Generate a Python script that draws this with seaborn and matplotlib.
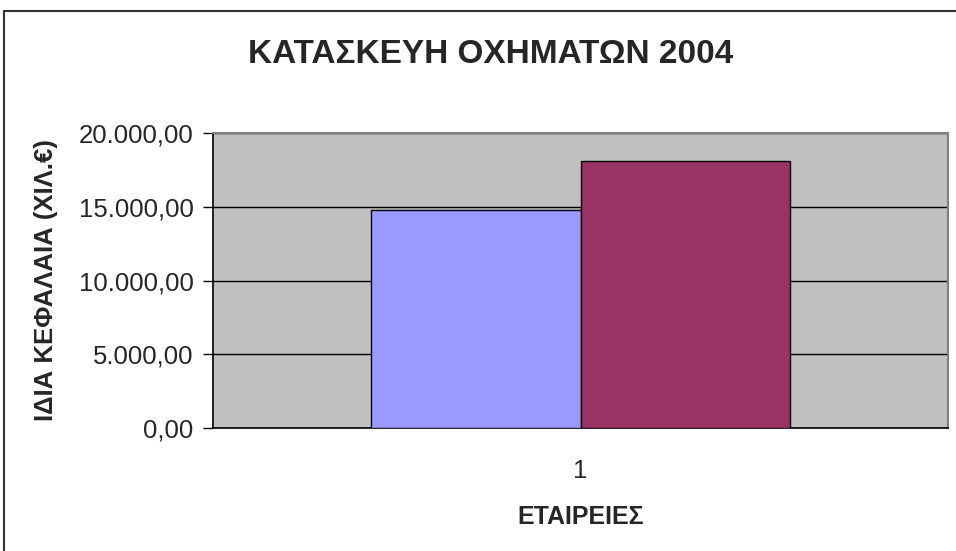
import numpy as np
import pandas as pd
import matplotlib
matplotlib.use("Agg")
import matplotlib.pyplot as plt
from matplotlib.ticker import FuncFormatter, FixedLocator
from matplotlib.lines import Line2D
import seaborn as sns

# Chart data
categories = ["1"]
series_names = ["Σειρά1", "Σειρά2"]
series_values = [14780, 18120]
series_colors = ["#9999FF", "#993366"]
y_ticks = [0, 5000, 10000, 15000, 20000]

title = "ΚΑΤΑΣΚΕΥΗ ΟΧΗΜΑΤΩΝ 2004"
x_label = "ΕΤΑΙΡΕΙΕΣ"
y_label = "ΙΔΙΑ ΚΕΦΑΛΑΙΑ (ΧΙΛ.€)"

sns.set_style("white")
plt.rcParams['font.family'] = ['Liberation Sans', 'DejaVu Sans']

df = pd.DataFrame({
    "category": categories * len(series_names),
    "series": series_names,
    "value": series_values,
})

fig = plt.figure(figsize=(9.56, 5.51), dpi=100)
ax = fig.add_axes([213 / 956, 1 - 428 / 551, 735 / 956, 295 / 551])
ax.set_facecolor("#C0C0C0")

sns.barplot(data=df, x="category", y="value", hue="series", palette=series_colors,
            saturation=1, width=0.571, dodge=True, edgecolor="black", linewidth=1.0,
            legend=False, ax=ax, zorder=3)

ax.set_xlim(-0.5, 0.5)
ax.set_ylim(0, 20000)
ax.set_yticks(y_ticks)
ax.yaxis.set_major_formatter(FuncFormatter(
    lambda v, p: f"{v:,.2f}".replace(",", "X").replace(".", ",").replace("X", ".")))
ax.grid(axis="y", color="black", linewidth=1.0, zorder=1)
ax.set_axisbelow(True)

# Excel style ticks: category ticks at edges, label centred
ax.xaxis.set_minor_locator(FixedLocator([-0.5, 0.5]))
ax.tick_params(axis="x", which="major", length=0, pad=22, labelsize=18.5)
ax.tick_params(axis="x", which="minor", length=7, width=1, color="black", direction="out")
ax.tick_params(axis="y", which="major", length=7, width=1, color="black", direction="out",
               pad=7, labelsize=18.5, left=True)

for side in ["top", "right"]:
    ax.spines[side].set_color("#808080")
    ax.spines[side].set_linewidth(1.5)
for side in ["left", "bottom"]:
    ax.spines[side].set_color("black")
    ax.spines[side].set_linewidth(1.2)

ax.set_xlabel(x_label, fontsize=18, fontweight="bold")
ax.xaxis.set_label_coords(0.5, -0.262)
ax.set_ylabel(y_label, fontsize=18.5, fontweight="bold")
ax.yaxis.label.set_va("center")
ax.yaxis.set_label_coords(-0.227, 0.5)

fig.text(491 / 956, 1 - 63 / 551, title, fontsize=24, fontweight="bold",
         ha="center", va="baseline")

# chart area border (top and left visible in the reference)
fig.add_artist(Line2D([4 / 956, 1.0], [1 - 11 / 551, 1 - 11 / 551],
                      color="#333333", linewidth=1.5, transform=fig.transFigure))
fig.add_artist(Line2D([4 / 956, 4 / 956], [0.0, 1 - 11 / 551],
                      color="#333333", linewidth=1.5, transform=fig.transFigure))

fig.savefig("out.png", dpi=100)
